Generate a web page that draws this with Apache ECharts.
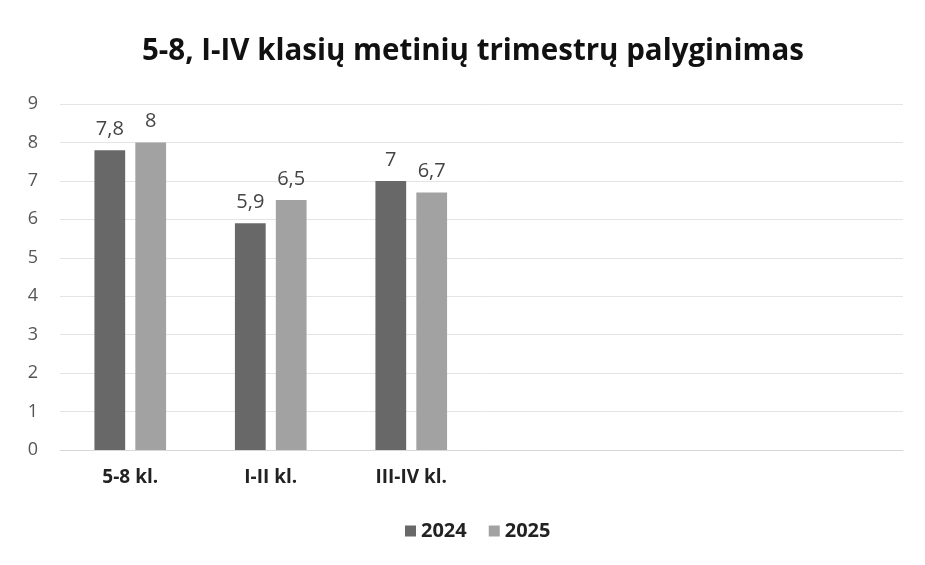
<!DOCTYPE html>
<html>
  <head>
    <meta charset="utf-8" />
    <title>ECharts</title>
    <script src="https://cdn.jsdelivr.net/npm/echarts@6.0.0/dist/echarts.min.js"></script>
    <style>
      body { margin: 0; background: #fff; }
    </style>
  </head>
  <body>
    <div id="main" style="width: 925px; height: 565px"></div>

    <script type="text/javascript">
      // kategorijos (paskutinės trys tuščios, kaip originale)
      const categories = ['5-8 kl.', 'I-II kl.', 'III-IV kl.', '', '', '']
      const seriesNames = ['2024', '2025']
      const values2024 = [7.8, 5.9, 7, null, null, null]
      const values2025 = [8, 6.5, 6.7, null, null, null]
      const yTicks = [0, 1, 2, 3, 4, 5, 6, 7, 8, 9]

      const font = '"Open Sans", "Noto Sans", sans-serif'
      const labelFmt = (p) => String(p.value).replace('.', ',')

      var myChart = echarts.init(document.getElementById('main'))

      option = {
        backgroundColor: '#fff',
        title: {
          text: '5-8, I-IV klasių metinių trimestrų palyginimas',
          left: 137,
          top: 32,
          textStyle: {
            fontFamily: font,
            fontSize: 29.5,
            fontWeight: 'bold',
            color: '#111',
          },
        },
        legend: {
          data: seriesNames,
          bottom: 19,
          left: 400,
          itemWidth: 11,
          itemHeight: 11,
          itemGap: 22,
          icon: 'rect',
          textStyle: {
            fontFamily: font,
            fontSize: 20,
            fontWeight: 'bold',
            color: '#222',
          },
        },
        grid: {
          left: 60,
          right: 22,
          top: 104,
          bottom: 115,
        },
        xAxis: {
          type: 'category',
          data: categories,
          axisLine: { show: true, lineStyle: { color: '#d8d8d8' } },
          axisTick: { show: false },
          axisLabel: {
            fontFamily: font,
            fontSize: 19,
            fontWeight: 'bold',
            color: '#222',
            margin: 18,
          },
        },
        yAxis: {
          type: 'value',
          min: yTicks[0],
          max: yTicks[yTicks.length - 1],
          interval: 1,
          axisLine: { show: false },
          axisTick: { show: false },
          axisLabel: {
            fontFamily: font,
            fontSize: 18,
            color: '#555',
            margin: 22,
          },
          splitLine: { lineStyle: { color: '#e4e4e4' } },
        },
        series: [
          {
            name: seriesNames[0],
            type: 'bar',
            data: values2024,
            barGap: '33%',
            barCategoryGap: '49%',
            itemStyle: { color: '#686868' },
            label: {
              show: true,
              position: 'top',
              distance: 11,
              fontFamily: font,
              fontSize: 20,
              color: '#444',
              formatter: labelFmt,
            },
          },
          {
            name: seriesNames[1],
            type: 'bar',
            data: values2025,
            itemStyle: { color: '#a2a2a2' },
            label: {
              show: true,
              position: 'top',
              distance: 11,
              fontFamily: font,
              fontSize: 20,
              color: '#444',
              formatter: labelFmt,
            },
          },
        ],
      }

      myChart.setOption(option)
    </script>
  </body>
</html>
